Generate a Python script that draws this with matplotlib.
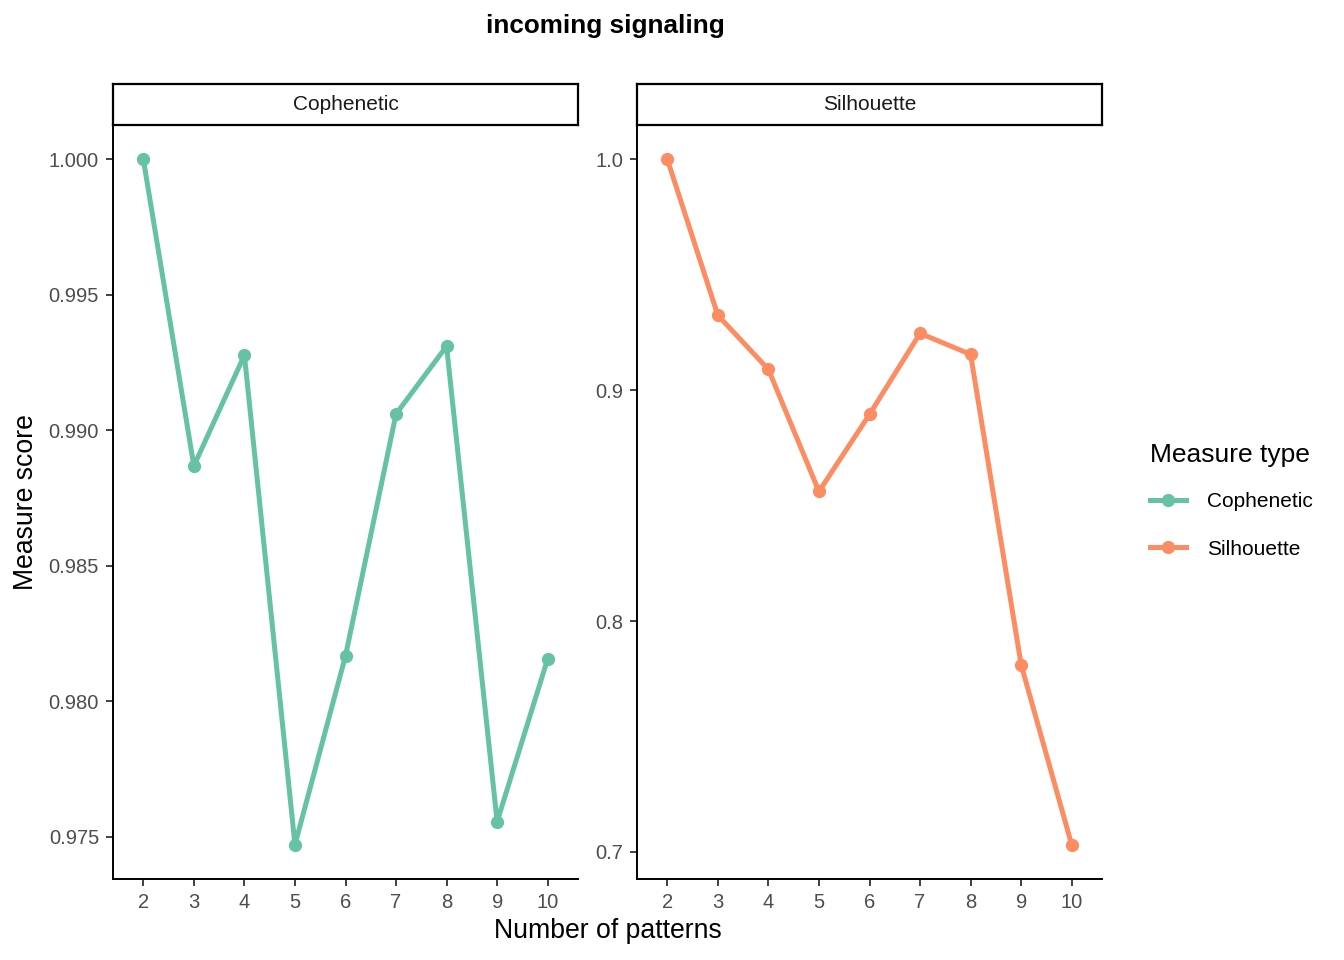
import matplotlib
matplotlib.use("Agg")
import matplotlib.pyplot as plt
from matplotlib.lines import Line2D

plt.rcParams['font.family'] = ['Liberation Sans', 'DejaVu Sans']

# Data
patterns = [2, 3, 4, 5, 6, 7, 8, 9, 10]
cophenetic = [1.000, 0.98868, 0.99277, 0.97470, 0.98167, 0.99060, 0.99310, 0.97555, 0.98156]
silhouette = [1.000, 0.9324, 0.9090, 0.8561, 0.8895, 0.9246, 0.9155, 0.7811, 0.7031]
measures = ["Cophenetic", "Silhouette"]
colors = ["#66C2A5", "#FC8D62"]
yticks_coph = [0.975, 0.980, 0.985, 0.990, 0.995, 1.000]
yticks_sil = [0.7, 0.8, 0.9, 1.0]

W, H = 1344, 960
fig = plt.figure(figsize=(W / 100, H / 100), dpi=100)


def px_axes(x0, x1, y0, y1):
    return fig.add_axes([x0 / W, 1 - y1 / H, (x1 - x0) / W, (y1 - y0) / H])


def panel(x0, x1, vals, col, name, yt, fmt):
    ax = px_axes(x0, x1, 125, 879)
    ax.plot(patterns, vals, color=col, lw=3.6, marker='o', ms=8.5, solid_capstyle='butt')
    lo, hi = min(vals), max(vals)
    pad = (hi - lo) * 0.05
    ax.set_ylim(lo - pad, hi + pad)
    ax.set_xlim(1.4, 10.6)
    ax.set_xticks(patterns)
    ax.set_yticks(yt)
    ax.set_yticklabels([fmt.format(v) for v in yt])
    for s in ['top', 'right']:
        ax.spines[s].set_visible(False)
    for s in ['left', 'bottom']:
        ax.spines[s].set_linewidth(1.4)
        ax.spines[s].set_color('black')
    ax.tick_params(length=5, width=1.3, color='#333333', labelsize=14.5,
                   labelcolor='#4D4D4D', pad=5)
    # strip on top
    strip = px_axes(x0, x1, 84, 125)
    strip.set_xticks([])
    strip.set_yticks([])
    for s in strip.spines.values():
        s.set_linewidth(1.6)
        s.set_color('black')
    strip.text(0.5, 0.5, name, ha='center', va='center', fontsize=15,
               color='#1A1A1A', transform=strip.transAxes)
    return ax


panel(113, 578, cophenetic, colors[0], measures[0], yticks_coph, "{:.3f}")
panel(637, 1102, silhouette, colors[1], measures[1], yticks_sil, "{:.1f}")

fig.text(605 / W, 1 - 26 / H, "incoming signaling", ha='center', va='center',
         fontsize=18.8, fontweight='bold')
fig.text(608 / W, 1 - 931 / H, "Number of patterns", ha='center', va='center',
         fontsize=19.2)
fig.text(26 / W, 1 - 502 / H, "Measure score", ha='center', va='center',
         fontsize=19.2, rotation=90)

handles = [Line2D([], [], color=c, lw=3.6, marker='o', ms=8.5) for c in colors]
leg = fig.legend(handles, measures, title="Measure type", loc='center left',
                 bbox_to_anchor=(1150 / W, 1 - 501 / H), frameon=False,
                 fontsize=15, title_fontsize=19, handlelength=1.75,
                 labelspacing=1.35, handletextpad=1.0, borderpad=0,
                 borderaxespad=0)
leg._legend_box.align = "left"
leg._legend_box.sep = 18

fig.savefig("out.png", dpi=100)
